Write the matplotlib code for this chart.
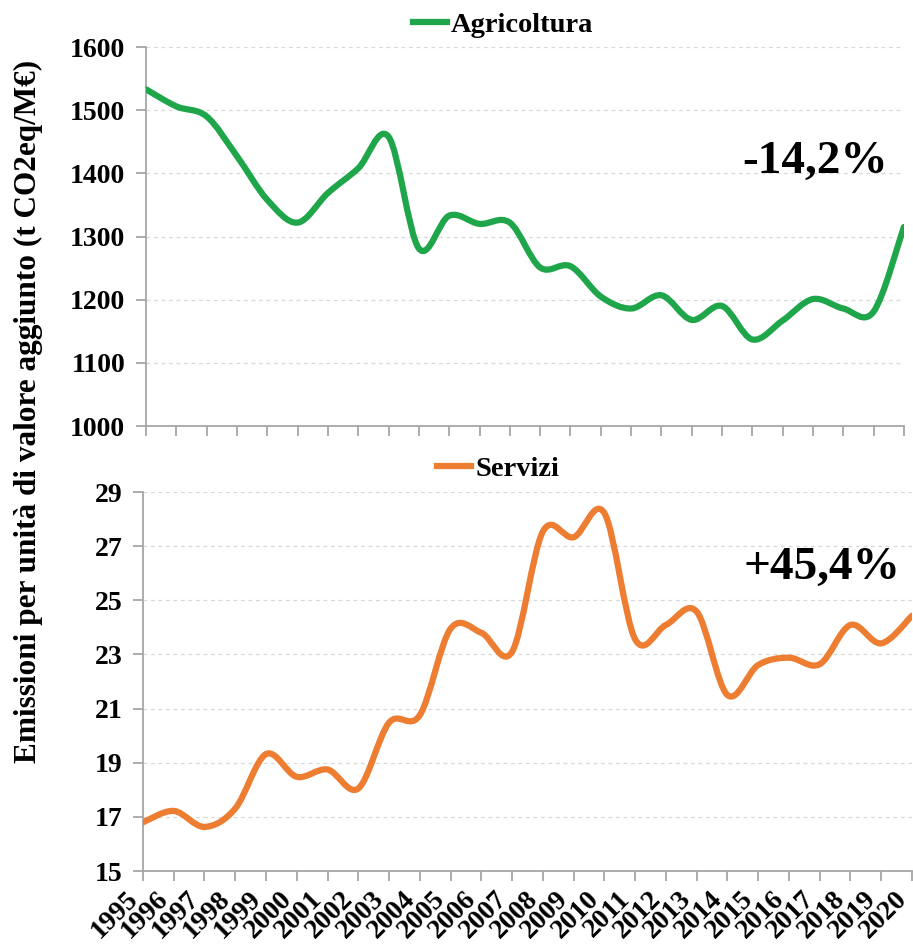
import matplotlib
matplotlib.use("Agg")
import matplotlib.pyplot as plt
import numpy as np
from matplotlib.path import Path
from matplotlib.patches import PathPatch
from matplotlib.lines import Line2D

plt.rcParams["font.family"] = ["Liberation Serif", "DejaVu Serif"]
plt.rcParams["font.weight"] = "bold"

years = list(range(1995, 2021))
agricoltura = [1533, 1506, 1490, 1427, 1358, 1322, 1369, 1408, 1458, 1281,
               1333, 1320, 1322, 1251, 1253, 1205, 1186, 1207, 1168, 1190,
               1137, 1167, 1201, 1186, 1181, 1315]
servizi = [16.80, 17.22, 16.63, 17.31, 19.32, 18.48, 18.75, 18.05, 20.48, 20.76,
           23.95, 23.80, 23.10, 27.54, 27.33, 28.22, 23.56, 24.09, 24.58, 21.50,
           22.61, 22.88, 22.64, 24.09, 23.41, 24.43]
label_agr = "Agricoltura"
label_ser = "Servizi"
delta_agr = "-14,2%"
delta_ser = "+45,4%"
ylabel = "Emissioni per unità di valore aggiunto (t CO2eq/M€)"

GREEN = "#1fa64a"
ORANGE = "#ed7d31"
AXIS = "#a6a6a6"
GRID = "#d9d9d9"


def smooth_path(x, y):
    """Excel style smoothed line: cubic bezier through every point."""
    p = np.column_stack([x, y]).astype(float)
    ext = np.vstack([p[0], p, p[-1]])
    verts = [p[0]]
    codes = [Path.MOVETO]
    for i in range(len(p) - 1):
        p0, p1, p2, p3 = ext[i], ext[i + 1], ext[i + 2], ext[i + 3]
        c1 = p1 + (p2 - p0) / 6.0
        c2 = p2 - (p3 - p1) / 6.0
        verts += [c1, c2, p2]
        codes += [Path.CURVE4] * 3
    return Path(verts, codes)


def style_axis(ax, ymin, ymax, step, show_xlabels):
    x = np.arange(len(years))
    ax.set_xlim(0, len(years) - 1)
    ax.set_ylim(ymin, ymax)
    ax.set_yticks(np.arange(ymin, ymax + step / 2, step))
    ax.set_xticks(x)
    if show_xlabels:
        ax.set_xticklabels([str(v) for v in years], rotation=45, ha="right",
                           va="bottom", rotation_mode="anchor", fontsize=20)
    else:
        ax.set_xticklabels([])
    for s in ["top", "right"]:
        ax.spines[s].set_visible(False)
    for s in ["left", "bottom"]:
        ax.spines[s].set_color(AXIS)
        ax.spines[s].set_linewidth(1.3)
    ax.tick_params(axis="both", color=AXIS, width=1.3, length=7)
    ax.tick_params(axis="y", labelsize=20, pad=8)
    ax.tick_params(axis="x", pad=17)
    ax.grid(axis="y", color=GRID, linestyle=(0, (3, 3)), linewidth=0.9)
    ax.set_axisbelow(True)


def add_legend(ax, color, label, xc, yc):
    ax.legend(handles=[Line2D([], [], color=color, lw=4.5, label=label)],
              loc="center", bbox_to_anchor=(xc, yc), frameon=False,
              prop={"size": 20.5, "weight": "bold"}, handlelength=1.2,
              handletextpad=0.15, borderpad=0.0, borderaxespad=0.0)


fig = plt.figure(figsize=(9.13, 9.44), dpi=100)
ax1 = fig.add_axes([0.160, 0.5487, 0.830, 0.4015])
ax2 = fig.add_axes([0.1566, 0.0773, 0.8423, 0.4015])

xs = np.arange(len(years))

style_axis(ax1, 1000, 1600, 100, False)
ax1.add_patch(PathPatch(smooth_path(xs, agricoltura), fill=False,
                        edgecolor=GREEN, linewidth=4.5, capstyle="round",
                        joinstyle="round", zorder=3))
add_legend(ax1, GREEN, label_agr, 0.471, 1.058)
ax1.text(0.979, 0.697, delta_agr, transform=ax1.transAxes, ha="right",
         va="center", fontsize=34, fontweight="bold")

style_axis(ax2, 15, 29, 2, True)
ax2.add_patch(PathPatch(smooth_path(xs, servizi), fill=False,
                        edgecolor=ORANGE, linewidth=4.5, capstyle="round",
                        joinstyle="round", zorder=3))
add_legend(ax2, ORANGE, label_ser, 0.462, 1.061)
ax2.text(0.985, 0.80, delta_ser, transform=ax2.transAxes, ha="right",
         va="center", fontsize=34, fontweight="bold")

fig.text(0.031, 0.564, ylabel, rotation=90, ha="center", va="center",
         fontsize=22.5, fontweight="bold")

fig.savefig("out.png", dpi=100)
